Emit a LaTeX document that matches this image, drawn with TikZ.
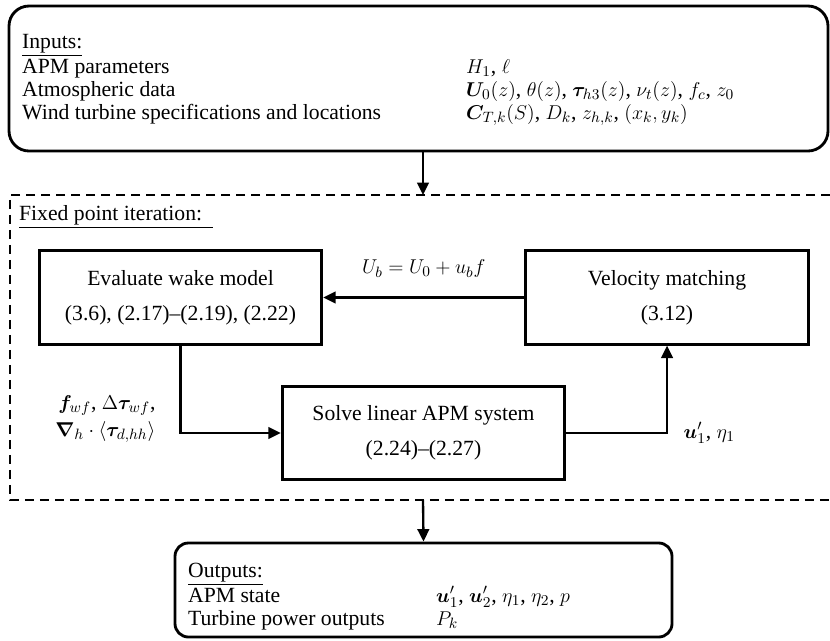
\documentclass[tikz,border=0pt]{standalone}
\usepackage{amsmath}
\usepackage{fontspec}
\setmainfont{Liberation Serif}
\usepackage{bm}
\usepackage{tikz}
\usetikzlibrary{arrows.meta,positioning}

\begin{document}
\begin{tikzpicture}[x=0.6pt, y=-0.6pt, >={Triangle[length=7.5pt,width=7pt]}, line width=1.4pt,
    font=\fontsize{13}{16}\selectfont,
    procbox/.style={draw, line width=1.7pt, minimum width=169.5pt, minimum height=56pt, align=center, font=\fontsize{13}{21}\selectfont},
    listbox/.style={draw, line width=1.7pt},
    txt/.style={anchor=base west, inner sep=0pt}]
            \useasboundingbox (0,0) rectangle (830,640);

            \node[listbox, rounded corners=12pt, minimum width=491.4pt, minimum height=87pt] (inputs) at (418.5,78.5) {};
            \node[txt] (intitle) at (21,48) {\underline{Inputs:}};
            \node[txt] (apm) at (21,73) {APM parameters};
            \node[txt] (atmo) at (21,96) {Atmospheric data};
            \node[txt] (wind) at (21,119) {Wind turbine specifications and locations};
            \node[txt] (apmval) at (465,73) {$H_1$, $\ell$};
            \node[txt] (atmoval) at (465,96) {$\bm{U}_0(z)$, $\theta(z)$, $\bm{\tau}_{h3}(z)$, $\nu_t(z)$, $f_c$, $z_0$};
            \node[txt] (windval) at (465,119) {$\bm{C}_{T,k}(S)$, $D_k$, $z_{h,k}$, $(x_k, y_k)$};

            \draw[dashed, dash pattern=on 5.4pt off 3.6pt] (830,195) -- (10,195) -- (10,500) -- (830,500);
            \coordinate (fixtop) at (423,195);
            \coordinate (fixbot) at (423,500);
            \node[txt] (fixtitle) at (18,220) {\underline{Fixed point iteration:\ \ }};

            \node[procbox] (wake) at (180.5,297.5) {Evaluate wake model\\(3.6), (2.17)--(2.19), (2.22)};
            \node[procbox] (match) at (667,297.5) {Velocity matching\\(3.12)};
            \node[procbox] (solve) at (423.5,433) {Solve linear APM system\\(2.24)--(2.27)};

            \node[listbox, rounded corners=8pt, minimum width=298.2pt, minimum height=56.4pt] (outputs) at (423.5,590) {};
            \node[txt] (outtitle) at (187,577) {\underline{Outputs:}};
            \node[txt] (state) at (187,602) {APM state};
            \node[txt] (power) at (187,625) {Turbine power outputs};
            \node[txt] (stateval) at (435,602) {$\bm{u}'_1$, $\bm{u}'_2$, $\eta_1$, $\eta_2$, $p$};
            \node[txt] (powerval) at (435,625) {$P_k$};

            \draw[->] (match) -- (wake) node[midway, above=8pt] (ubeq) {$U_b = U_0 + u_b f$};
            \draw[->] (wake) |- (solve) node[pos=0.42, left=11pt, align=right] (forcing) {$\bm{f}_{wf}$, $\Delta\bm{\tau}_{wf}$,\\ $\bm{\nabla}_h \cdot \langle \bm{\tau}_{d,hh} \rangle$};
            \draw[->] (solve) -| (match) node[pos=0.5, right=6pt] (solveout) {$\bm{u}'_1$, $\eta_1$};
            \draw[->] (inputs.south -| fixtop) -- (fixtop);
            \draw[->] (fixbot) -- (outputs.north);
        \end{tikzpicture}
\end{document}
